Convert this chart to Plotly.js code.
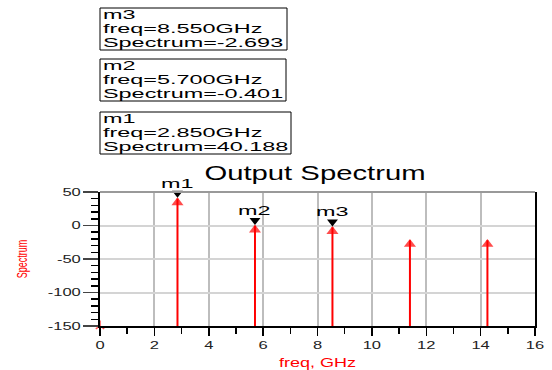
<!DOCTYPE html>
<html><head><meta charset="utf-8">
<script src="https://cdn.plot.ly/plotly-3.0.1.min.js"></script>
<style>html,body{margin:0;padding:0;background:#fff}#chart{width:552px;height:370px}</style>
</head><body><div id="chart"></div>
<script>
// ---- data ----
const freqs = [0, 2.85, 5.7, 8.55, 11.4, 14.25];
const spectrum = [-150, 40.188, -0.401, -2.693, -22, -22];
const markerNames = ['m1', 'm2', 'm3'];
const markerFreqs = [2.85, 5.7, 8.55];
const markerValues = [40.188, -0.401, -2.693];
const xTickVals = [0, 2, 4, 6, 8, 10, 12, 14, 16];
const xTickText = ['0', '2', '4', '6', '8', '10', '12', '14', '16'];
const yTickVals = [50, 0, -50, -100, -150];
const yTickText = ['50', '0', '-50', '-100', '-150'];

// ---- layout helpers ----
const FLOOR = -150;
const W = 552, H = 370, L = 100, R = 17, T = 192, B = 44;
const PW = W - L - R, PH = H - T - B;
const px = x => (x - L) / PW;
const py = y => (H - B - y) / PH;
const FONT = '"Liberation Sans", Arial, Helvetica, sans-serif';

const stemX = [], stemY = [];
freqs.forEach((f, i) => { stemX.push(f, f, null); stemY.push(FLOOR, spectrum[i], null); });

const traces = [
  {x: stemX, y: stemY, mode: 'lines', line: {color: '#ff0000', width: 2},
   hoverinfo: 'skip', showlegend: false},
  {x: freqs, y: spectrum, mode: 'markers', showlegend: false, cliponaxis: false,
   marker: {color: '#ff0000',
            size: freqs.map((f, i) => i === 0 ? 7 : 10.5),
            symbol: freqs.map((f, i) => i === 0 ? 'y-up' : 'triangle-up'),
            standoff: freqs.map((f, i) => i === 0 ? 0 : 4),
            line: {color: '#ff0000', width: freqs.map((f, i) => i === 0 ? 1.5 : 0)}}},
  {x: markerFreqs, y: markerValues, mode: 'markers', showlegend: false, cliponaxis: false,
   marker: {color: '#000', size: 9.5, symbol: 'triangle-up', angle: 180, standoff: 5.5}}
];

// marker readout boxes (m1 lowest)
const boxTops = [112, 59, 8];
const boxRights = [291, 286, 287];
const lineOffsets = [7, 21, 35];
const boxTexts = new Set();
const shapes = [];
const annotations = [];
markerNames.forEach((name, i) => {
  const lines = [name, 'freq=' + markerFreqs[i].toFixed(3) + 'GHz', 'Spectrum=' + markerValues[i].toFixed(3)];
  shapes.push({type: 'rect', xref: 'paper', yref: 'paper', x0: px(100), x1: px(boxRights[i]),
               y0: py(boxTops[i]), y1: py(boxTops[i] + 42), line: {color: '#000', width: 1}});
  lines.forEach((s, j) => {
    boxTexts.add(s);
    annotations.push({xref: 'paper', yref: 'paper', x: px(101.5), y: py(boxTops[i] + lineOffsets[j]),
      xanchor: 'left', yanchor: 'middle', align: 'left', showarrow: false, text: s, borderpad: 0,
      font: {family: FONT, size: 12, color: '#000'}});
  });
  annotations.push({x: markerFreqs[i], y: markerValues[i], xref: 'x', yref: 'y', showarrow: false,
    text: name, yanchor: 'bottom', xanchor: 'center', yshift: 6,
    font: {family: FONT, size: 12, color: '#000'}});
});
// top border
shapes.push({type: 'line', xref: 'paper', yref: 'paper', x0: 0, x1: 1, y0: 1, y1: 1,
             line: {color: '#999', width: 2}});

const layout = {
  width: W, height: H, margin: {l: L, r: R, t: T, b: B, pad: 0},
  paper_bgcolor: '#fff', plot_bgcolor: '#fff', showlegend: false,
  font: {family: FONT, color: '#000'},
  title: {text: 'Output Spectrum', font: {family: FONT, size: 19.5, color: '#000'},
          xref: 'paper', x: px(315), xanchor: 'center', yref: 'container', y: 1 - 173 / H, yanchor: 'middle'},
  xaxis: {range: [0, 16], tickmode: 'array', tickvals: xTickVals, ticktext: xTickText,
          ticks: 'outside', ticklen: 8, tickwidth: 1.5, tickcolor: '#000',
          showline: true, linecolor: '#000', linewidth: 2,
          showgrid: true, gridcolor: '#bdbdbd', gridwidth: 2, zeroline: false,
          tickfont: {family: FONT, size: 11, color: '#222'},
          minor: {dtick: 1, ticks: 'outside', ticklen: 6, tickcolor: '#000', tickwidth: 1.5, showgrid: false},
          title: {text: 'freq, GHz', font: {family: FONT, size: 12, color: '#ff0000'}, standoff: 8}},
  yaxis: {range: [-150, 50], tickmode: 'array', tickvals: yTickVals, ticktext: yTickText,
          ticks: 'outside', ticklen: 15, tickwidth: 1.5, tickcolor: '#444',
          showline: true, mirror: true, linecolor: '#000', linewidth: 2,
          showgrid: true, gridcolor: '#d4d4d4', gridwidth: 2, zeroline: false,
          tickfont: {family: FONT, size: 11, color: '#222'},
          minor: {dtick: 10, ticks: 'outside', ticklen: 7, tickcolor: '#000', tickwidth: 1.5, showgrid: false},
          title: {text: 'Spectrum', font: {family: FONT, size: 9, color: '#ff0000'}, standoff: 30}},
  shapes: shapes, annotations: annotations
};

const gd = document.getElementById('chart');
Plotly.newPlot(gd, traces, layout, {staticPlot: true, displayModeBar: false}).then(() => {
  gd.querySelectorAll('text').forEach(t => {
    const txt = t.textContent;
    if (!txt) return;
    if (t.closest('.g-ytitle')) {
      const x = +t.getAttribute('x');
      const tr = t.getAttribute('transform') || '';
      t.setAttribute('transform', 'translate(' + x + ',0) scale(1.55,1) translate(' + (-x) + ',0) ' + tr);
      return;
    }
    const k = boxTexts.has(txt) ? 1.95 : 1.5;
    const w = t.getComputedTextLength();
    t.setAttribute('textLength', (w * k).toFixed(2));
    t.setAttribute('lengthAdjust', 'spacingAndGlyphs');
  });
});
</script>
</body></html>
